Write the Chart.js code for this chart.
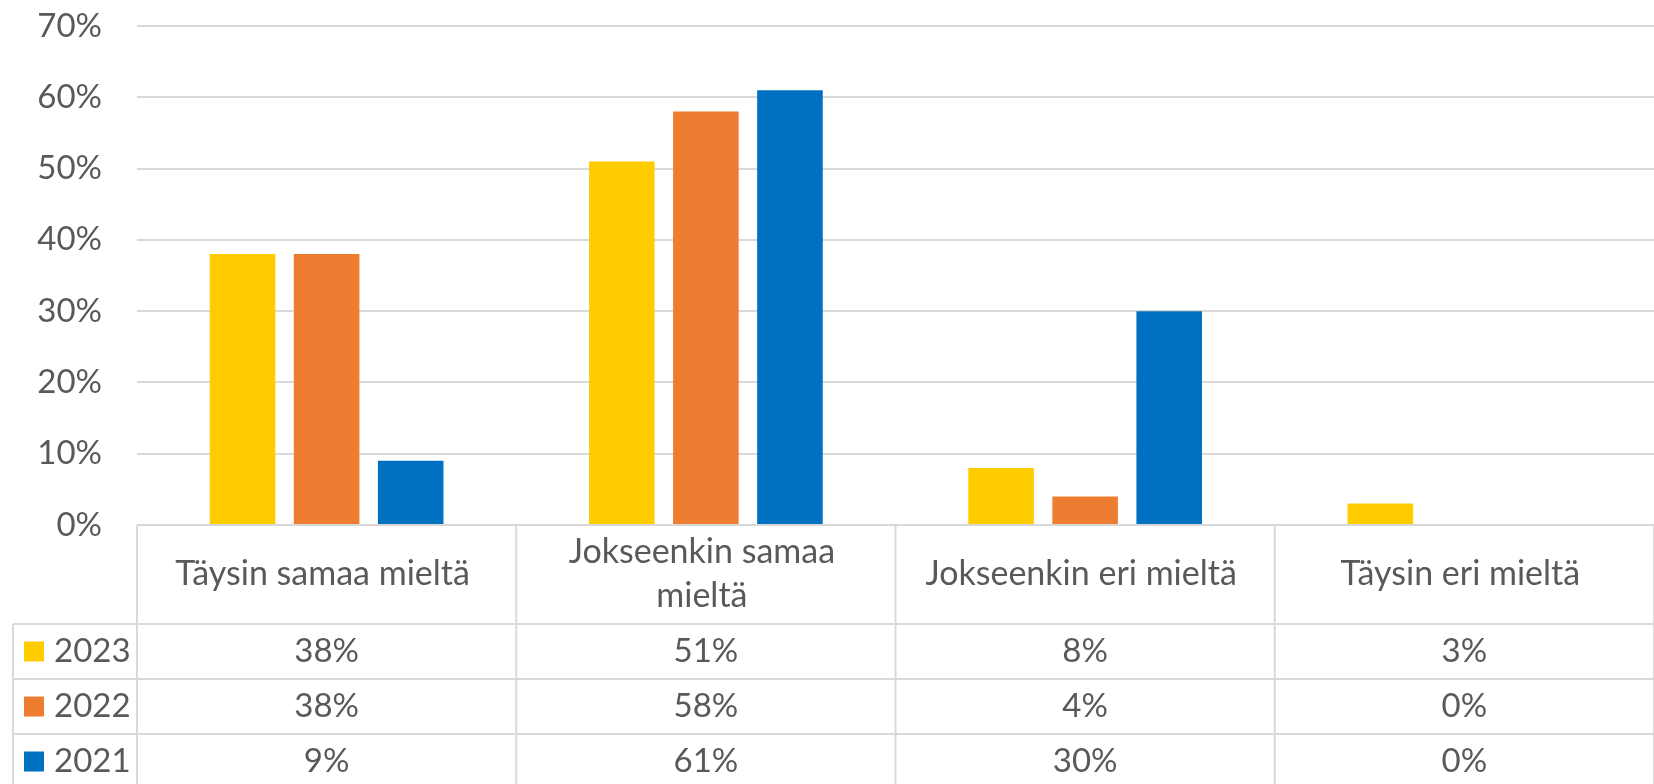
<!DOCTYPE html>
<html>
<head>
<meta charset="utf-8">
<script src="https://cdn.jsdelivr.net/npm/chart.js@4"></script>
<style>
  html, body { margin: 0; padding: 0; background: #fff; }
  #wrap { width: 1654px; height: 784px; }
</style>
</head>
<body>
<div id="wrap"><canvas id="chart" width="1654" height="784"></canvas></div>
<script>
// header labels, one entry per line
const categories = [
  ['Täysin samaa mieltä'],
  ['Jokseenkin samaa', 'mieltä'],
  ['Jokseenkin eri mieltä'],
  ['Täysin eri mieltä']
];
const years = ['2023', '2022', '2021'];
const values2023 = [38, 51, 8, 3];
const values2022 = [38, 58, 4, 0];
const values2021 = [9, 61, 30, 0];
const yMax = 70;
const yStep = 10;

const colors = ['#FFCC00', '#ED7D31', '#0070C0'];
const textColor = '#595959';
const lineColor = '#d9d9d9';

Chart.defaults.font.family = 'Lato, "Noto Sans", sans-serif';
Chart.defaults.font.size = 33;
Chart.defaults.color = textColor;

const series = [values2023, values2022, values2021];

// draws the data table under the plot, column edges from the x scale
const dataTable = {
  id: 'dataTable',
  afterDraw(chart) {
    const ctx = chart.ctx;
    const area = chart.chartArea;
    const xs = chart.scales.x;
    const colW = (area.right - area.left) / categories.length;
    const headBottom = area.bottom + 99;
    const rowH = 55;
    const legendLeft = 13;
    const bottom = chart.height;

    ctx.save();
    ctx.strokeStyle = lineColor;
    ctx.lineWidth = 2;
    const line = (x1, y1, x2, y2) => {
      ctx.beginPath();
      ctx.moveTo(x1, y1);
      ctx.lineTo(x2, y2);
      ctx.stroke();
    };
    line(area.left, area.bottom, area.right, area.bottom);
    for (let r = 0; r < years.length; r++) {
      line(legendLeft, headBottom + r * rowH, area.right, headBottom + r * rowH);
    }
    line(legendLeft, headBottom, legendLeft, bottom);
    for (let i = 0; i <= categories.length; i++) {
      const xx = area.left + i * colW;
      line(xx, area.bottom, xx, bottom);
    }

    ctx.fillStyle = textColor;
    ctx.font = '34px ' + Chart.defaults.font.family;
    ctx.textAlign = 'center';
    ctx.textBaseline = 'middle';
    const headMid = (area.bottom + headBottom) / 2;
    const lh = 44;
    categories.forEach((lines, i) => {
      const cx = xs.getPixelForValue(i) - 4;
      const y0 = headMid - (lines.length - 1) * lh / 2;
      lines.forEach((t, k) => ctx.fillText(t, cx, y0 + k * lh));
    });

    ctx.font = '33px ' + Chart.defaults.font.family;
    series.forEach((vals, r) => {
      const cy = headBottom + r * rowH + rowH / 2;
      ctx.textAlign = 'center';
      ctx.fillStyle = textColor;
      vals.forEach((v, i) => ctx.fillText(v + '%', xs.getPixelForValue(i), cy));
      ctx.fillStyle = colors[r];
      ctx.fillRect(24, cy - 10, 20, 20);
      ctx.fillStyle = textColor;
      ctx.textAlign = 'left';
      ctx.fillText(years[r], 54, cy);
    });
    ctx.restore();
  }
};

new Chart(document.getElementById('chart'), {
  type: 'bar',
  data: {
    labels: categories.map(c => c.join(' ')),
    datasets: years.map((y, i) => ({
      label: y,
      data: series[i],
      backgroundColor: colors[i],
      categoryPercentage: 0.665,
      barPercentage: 0.78
    }))
  },
  options: {
    responsive: false,
    animation: false,
    layout: { padding: { top: 26, right: 0, bottom: 259, left: 0 } },
    plugins: {
      legend: { display: false },
      tooltip: { enabled: false }
    },
    scales: {
      x: { display: false },
      y: {
        min: 0,
        max: yMax,
        ticks: { stepSize: yStep, padding: 0, callback: v => v + '%' },
        grid: {
          color: lineColor,
          lineWidth: 2,
          drawTicks: true,
          tickLength: 35,
          tickColor: 'rgba(0,0,0,0)'
        },
        border: { display: false },
        afterFit(scale) { scale.width = 137; }
      }
    }
  },
  plugins: [dataTable]
});
</script>
</body>
</html>
